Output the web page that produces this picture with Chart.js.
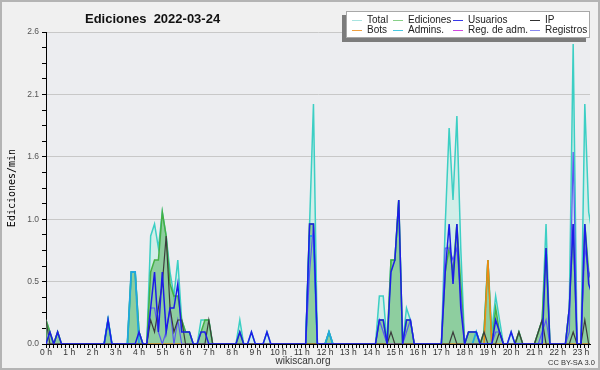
<!DOCTYPE html>
<html>
<head>
<meta charset="utf-8">
<script src="https://cdn.jsdelivr.net/npm/chart.js@4/dist/chart.umd.min.js"></script>
<style>
  body { margin: 0; background: #f0f0f0; }
  #wrap { position: relative; width: 600px; height: 370px; overflow: hidden; font-family: "Liberation Sans", Arial, sans-serif; }
  #frame { position: absolute; left: 0; top: 0; width: 600px; height: 370px; box-sizing: border-box; border: 2px solid #b4b4b4; pointer-events: none; }
  #title { position: absolute; left: 85px; top: 12px; font-weight: bold; font-size: 13px; line-height: 13px; white-space: pre; color: #111; }
  #legend { position: absolute; left: 346px; top: 11px; width: 242px; height: 25px; background: #fff; border: 1px solid #a8a8a8; box-shadow: -4px 4px 0 #7c7c7c; font-size: 10px; color: #222; }
  .item { position: absolute; white-space: nowrap; line-height: 11px; }
  .item i { display: inline-block; width: 10px; height: 1px; vertical-align: middle; margin-right: 5px; }
  #site { position: absolute; left: 0; top: 355px; width: 606px; text-align: center; font-size: 10px; color: #333; }
  #cc { position: absolute; left: 548px; top: 358px; font-size: 7.5px; color: #333; }
</style>
</head>
<body>
<div id="wrap">
  <canvas id="chart" width="600" height="370"></canvas>
  <div id="title">Ediciones  2022-03-24</div>
  <div id="legend"></div>
  <div id="site">wikiscan.org</div>
  <div id="cc">CC BY-SA 3.0</div>
  <div id="frame"></div>
</div>
<script>
// one value per 10 minutes, edits per minute
const hourLabels = ['0 h', '1 h', '2 h', '3 h', '4 h', '5 h', '6 h', '7 h', '8 h', '9 h', '10 h', '11 h',
  '12 h', '13 h', '14 h', '15 h', '16 h', '17 h', '18 h', '19 h', '20 h', '21 h', '22 h', '23 h'];
const yTicks = [0, 0.52, 1.04, 1.56, 2.08, 2.6];
const yTickLabels = ['0.0', '0.5', '1.0', '1.6', '2.1', '2.6'];
const xMax = 23.39;

const total = [
  0.2, 0.1, 0, 0.1, 0, 0,
  0, 0, 0, 0, 0, 0,
  0, 0, 0, 0, 0.2, 0,
  0, 0, 0, 0, 0.6, 0.6,
  0.1, 0, 0, 0.9, 1.0, 0.8,
  1.1, 0.9, 0.6, 0.4, 0.7, 0.2,
  0.1, 0.1, 0, 0, 0.2, 0.2,
  0.2, 0, 0, 0, 0, 0,
  0, 0, 0.2, 0, 0, 0.1,
  0, 0, 0, 0.1, 0, 0,
  0, 0, 0, 0, 0, 0,
  0, 0, 1.0, 2.0, 0, 0,
  0, 0.1, 0, 0, 0, 0,
  0, 0, 0, 0, 0, 0,
  0, 0, 0.4, 0.4, 0, 0.7,
  0.7, 1.2, 0, 0.3, 0.2, 0,
  0, 0, 0, 0, 0, 0,
  0, 1.0, 1.8, 1.2, 1.9, 0.8,
  0, 0.1, 0.1, 0.1, 0, 0.1,
  0.7, 0.1, 0.4, 0.2, 0, 0,
  0.1, 0, 0.1, 0, 0, 0,
  0, 0.1, 0.2, 1.0, 0, 0,
  0, 0, 0, 0.3, 2.5, 0,
  0, 2.0, 1.1, 0.9
];
const ediciones = [
  0.2, 0.1, 0, 0.1, 0, 0,
  0, 0, 0, 0, 0, 0,
  0, 0, 0, 0, 0.2, 0,
  0, 0, 0, 0, 0.6, 0.6,
  0.1, 0, 0, 0.6, 0.7, 0.7,
  1.1, 0.9, 0.5, 0.4, 0.4, 0.2,
  0.1, 0.1, 0, 0, 0.1, 0.2,
  0.2, 0, 0, 0, 0, 0,
  0, 0, 0.1, 0, 0, 0,
  0, 0, 0, 0, 0, 0,
  0, 0, 0, 0, 0, 0,
  0, 0, 1.0, 1.0, 0, 0,
  0, 0.1, 0, 0, 0, 0,
  0, 0, 0, 0, 0, 0,
  0, 0, 0.2, 0.2, 0, 0.7,
  0.7, 1.2, 0, 0.2, 0.2, 0,
  0, 0, 0, 0, 0, 0,
  0, 0.6, 0.8, 0.6, 1.0, 0.5,
  0, 0.1, 0.1, 0.1, 0, 0.1,
  0.7, 0, 0.3, 0.1, 0, 0,
  0, 0, 0.1, 0, 0, 0,
  0, 0.1, 0.2, 0.8, 0, 0,
  0, 0, 0, 0.3, 1.0, 0,
  0, 1.0, 0.6, 0.5
];
const usuarios = [
  0, 0.1, 0, 0.1, 0, 0,
  0, 0, 0, 0, 0, 0,
  0, 0, 0, 0, 0.2, 0,
  0, 0, 0, 0, 0, 0,
  0.1, 0, 0, 0.3, 0.6, 0.1,
  0.6, 0.1, 0.3, 0.3, 0.5, 0.1,
  0.1, 0.1, 0, 0, 0.1, 0.1,
  0, 0, 0, 0, 0, 0,
  0, 0, 0.1, 0, 0, 0.1,
  0, 0, 0, 0.1, 0, 0,
  0, 0, 0, 0, 0, 0,
  0, 0, 1.0, 1.0, 0, 0,
  0, 0, 0, 0, 0, 0,
  0, 0, 0, 0, 0, 0,
  0, 0, 0.2, 0.2, 0, 0.6,
  0.7, 1.2, 0, 0.2, 0.2, 0,
  0, 0, 0, 0, 0, 0,
  0, 0.6, 1.0, 0.5, 1.0, 0.3,
  0, 0.1, 0.1, 0.1, 0, 0,
  0, 0, 0.2, 0.1, 0, 0,
  0.1, 0, 0, 0, 0, 0,
  0, 0, 0, 0.8, 0, 0,
  0, 0, 0, 0.3, 1.0, 0,
  0, 1.0, 0.5, 0.4
];
const ip = [
  0.2, 0, 0, 0, 0, 0,
  0, 0, 0, 0, 0, 0,
  0, 0, 0, 0, 0, 0,
  0, 0, 0, 0, 0, 0,
  0, 0, 0, 0.2, 0.1, 0.3,
  0.5, 0.9, 0.3, 0.1, 0.2, 0.2,
  0, 0, 0, 0, 0, 0,
  0.2, 0, 0, 0, 0, 0,
  0, 0, 0, 0, 0, 0,
  0, 0, 0, 0, 0, 0,
  0, 0, 0, 0, 0, 0,
  0, 0, 0, 0, 0, 0,
  0, 0, 0, 0, 0, 0,
  0, 0, 0, 0, 0, 0,
  0, 0, 0, 0, 0, 0.1,
  0, 0, 0, 0, 0, 0,
  0, 0, 0, 0, 0, 0,
  0, 0, 0, 0.1, 0, 0,
  0, 0, 0, 0, 0, 0.1,
  0, 0, 0, 0.1, 0, 0,
  0, 0, 0.1, 0, 0, 0,
  0, 0.1, 0.2, 0, 0, 0,
  0, 0, 0, 0, 0.1, 0,
  0, 0.2, 0, 0
];
const bots = [
  0, 0, 0, 0, 0, 0,
  0, 0, 0, 0, 0, 0,
  0, 0, 0, 0, 0, 0,
  0, 0, 0, 0, 0, 0,
  0, 0, 0, 0, 0, 0,
  0, 0, 0, 0, 0, 0,
  0, 0, 0, 0, 0, 0,
  0, 0, 0, 0, 0, 0,
  0, 0, 0, 0, 0, 0,
  0, 0, 0, 0, 0, 0,
  0, 0, 0, 0, 0, 0,
  0, 0, 0, 0, 0, 0,
  0, 0, 0, 0, 0, 0,
  0, 0, 0, 0, 0, 0,
  0, 0, 0, 0, 0, 0,
  0, 0, 0, 0, 0, 0,
  0, 0, 0, 0, 0, 0,
  0, 0, 0, 0, 0, 0,
  0, 0, 0, 0, 0, 0,
  0.7, 0, 0, 0, 0, 0,
  0, 0, 0, 0, 0, 0,
  0, 0, 0, 0, 0, 0,
  0, 0, 0, 0, 0, 0,
  0, 0, 0, 0
];
const admins = [
  0, 0, 0, 0, 0, 0,
  0, 0, 0, 0, 0, 0,
  0, 0, 0, 0, 0.2, 0,
  0, 0, 0, 0, 0.6, 0.6,
  0, 0, 0, 0, 0, 0,
  0, 0, 0, 0, 0, 0,
  0, 0, 0, 0, 0, 0,
  0, 0, 0, 0, 0, 0,
  0, 0, 0, 0, 0, 0,
  0, 0, 0, 0, 0, 0,
  0, 0, 0, 0, 0, 0,
  0, 0, 0.9, 0.9, 0, 0,
  0, 0.1, 0, 0, 0, 0,
  0, 0, 0, 0, 0, 0,
  0, 0, 0, 0, 0, 0,
  0, 0, 0, 0, 0, 0,
  0, 0, 0, 0, 0, 0,
  0, 0, 0, 0, 0, 0,
  0, 0, 0, 0.1, 0, 0,
  0, 0, 0, 0, 0, 0,
  0, 0, 0, 0, 0, 0,
  0, 0, 0, 0, 0, 0,
  0, 0, 0, 0, 0, 0,
  0, 0, 0, 0
];
const registros = [
  0, 0, 0, 0, 0, 0,
  0, 0, 0, 0, 0, 0,
  0, 0, 0, 0, 0, 0,
  0, 0, 0, 0, 0, 0,
  0, 0, 0, 0.3, 0.3, 0.1,
  0, 0.1, 0.3, 0, 0.2, 0,
  0, 0, 0, 0, 0, 0,
  0, 0, 0, 0, 0, 0,
  0, 0, 0, 0, 0, 0,
  0, 0, 0, 0, 0, 0,
  0, 0, 0, 0, 0, 0,
  0, 0, 0.6, 1.0, 0, 0,
  0, 0, 0, 0, 0, 0,
  0, 0, 0, 0, 0, 0,
  0, 0, 0.2, 0.1, 0, 0,
  0, 0, 0, 0.1, 0.2, 0,
  0, 0, 0, 0, 0, 0,
  0, 0.8, 0.8, 0.7, 0.8, 0.4,
  0, 0, 0, 0, 0, 0,
  0, 0, 0.1, 0.1, 0, 0,
  0, 0, 0, 0, 0, 0,
  0, 0, 0.1, 0.2, 0, 0,
  0, 0, 0, 0.1, 1.6, 0,
  0, 0.8, 0.6, 0.5
];

const legendItems = [
  ['Total', '#a8e4e0'], ['Ediciones', '#88d088'], ['Usuarios', '#3838e8'], ['IP', '#303030'],
  ['Bots', '#f0a040'], ['Admins.', '#48c8e0'], ['Reg. de adm.', '#d048e0'], ['Registros', '#8888f0']
];
const legendCols = [5, 46, 106, 183];
const legendRows = [2, 12];

// x values: one slot every 10 minutes
const times = total.map((_, i) => i / 6);
const xTickValues = times.filter(t => t <= xMax);
const yMinorTicks = [];
for (let i = 0; i < yTicks.length - 1; i++) {
  for (let k = 0; k < 4; k++) yMinorTicks.push(yTicks[i] + (yTicks[i + 1] - yTicks[i]) * k / 4);
}
yMinorTicks.push(yTicks[yTicks.length - 1]);

function majorIndex(v) {
  return yTicks.findIndex(t => Math.abs(t - v) < 1e-6);
}

// html legend
const legendBox = document.getElementById('legend');
legendItems.forEach((item, i) => {
  const el = document.createElement('div');
  el.className = 'item';
  el.style.left = legendCols[i % 4] + 'px';
  el.style.top = legendRows[Math.floor(i / 4)] + 'px';
  el.innerHTML = '<i style="background:' + item[1] + '"></i>' + item[0];
  legendBox.appendChild(el);
});

const background = {
  id: 'background',
  beforeDraw(chart) {
    const { ctx, chartArea } = chart;
    ctx.save();
    ctx.fillStyle = '#f0f0f0';
    ctx.fillRect(0, 0, chart.width, chart.height);
    ctx.fillStyle = '#ecedf0';
    ctx.fillRect(chartArea.left, chartArea.top, chartArea.right - chartArea.left, chartArea.bottom - chartArea.top);
    ctx.restore();
  }
};

function line(label, data, color, width, order, extra) {
  return Object.assign({
    label: label,
    data: data,
    borderColor: color,
    borderWidth: width,
    fill: false,
    pointRadius: 0,
    tension: 0,
    order: order
  }, extra || {});
}

new Chart(document.getElementById('chart'), {
  type: 'line',
  data: {
    labels: times,
    datasets: [
      line('Total', total, '#3ccfc4', 1.5, 10, { fill: 'origin', backgroundColor: 'rgba(190,238,228,0.55)' }),
      line('Ediciones', ediciones, '#45b045', 1.5, 9, { fill: 'origin', backgroundColor: 'rgba(70,172,80,0.48)' }),
      line('Admins.', admins, '#1fa8e0', 1.8, 8),
      line('Bots', bots, '#f08a10', 1.5, 7),
      line('Registros', registros, '#5a5af0', 1.2, 6),
      line('IP', ip, '#3c3c3c', 1.2, 5),
      line('Usuarios', usuarios, '#1c1ce8', 1.5, 4)
    ]
  },
  options: {
    responsive: false,
    animation: false,
    devicePixelRatio: 1,
    layout: { padding: { top: 32, right: 10, left: 0, bottom: 0 } },
    plugins: {
      legend: { display: false },
      title: { display: false },
      tooltip: { enabled: false }
    },
    scales: {
      x: {
        type: 'linear',
        min: 0,
        max: xMax,
        z: 1,
        afterBuildTicks: s => { s.ticks = xTickValues.map(v => ({ value: v })); },
        afterFit: s => { s.height = 26; },
        ticks: {
          autoSkip: false,
          maxRotation: 0,
          padding: 0,
          color: '#333',
          font: { family: 'Liberation Sans', size: 8.5 },
          callback: v => {
            const h = Math.round(v);
            return Math.abs(v - h) < 1e-6 ? hourLabels[h] : '';
          }
        },
        grid: { drawOnChartArea: false, tickLength: 4, tickColor: '#000', color: '#000' },
        border: { color: '#000', width: 1 }
      },
      y: {
        min: 0,
        max: 2.6,
        afterBuildTicks: s => { s.ticks = yMinorTicks.map(v => ({ value: v })); },
        afterFit: s => { s.width = 46; },
        ticks: {
          autoSkip: false,
          padding: 3,
          color: '#555',
          font: { family: 'Liberation Sans', size: 8.5 },
          callback: v => {
            const i = majorIndex(v);
            return i >= 0 ? yTickLabels[i] : '';
          }
        },
        grid: {
          color: c => majorIndex(c.tick.value) >= 0 ? '#c8c8c8' : 'rgba(0,0,0,0)',
          tickColor: '#000',
          tickLength: 4
        },
        border: { color: '#000', width: 1 },
        title: {
          display: true,
          text: 'Ediciones/min',
          color: '#000',
          font: { family: 'DejaVu Sans Mono', size: 10 },
          padding: { top: 6, bottom: 0 }
        }
      }
    }
  },
  plugins: [background]
});
</script>
</body>
</html>
